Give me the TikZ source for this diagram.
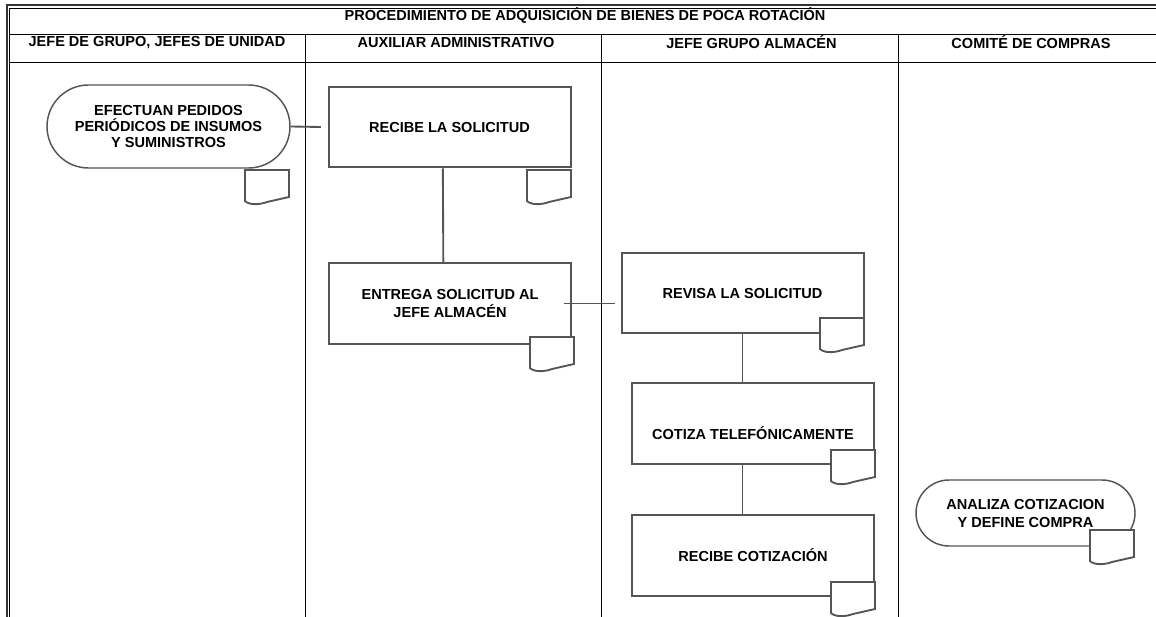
\documentclass[tikz,border=0pt]{standalone}
\usepackage{fontspec}
\setmainfont{Liberation Sans}
\usetikzlibrary{shapes.misc}
\definecolor{borde}{HTML}{555555}

\begin{document}
\begin{tikzpicture}[x=0.75pt,y=-0.75pt,
    texto/.style={font=\bfseries\fontsize{10.9}{13.5}\selectfont, align=center, inner sep=0pt},
    proceso/.style={texto, draw=borde, line width=1.5pt, minimum width=181.5pt, minimum height=60.5pt},
    extremo/.style={texto, rounded rectangle, draw=borde, line width=1.1pt},
    conector/.style={draw=borde, line width=1.4pt},
    carril/.style={line width=0.7pt},
    documento/.pic={\draw[borde, line width=1.4pt, fill=white]
        (0,0) -- (44,0) -- (44,27) -- (22,32) .. controls (14,35) and (4,35) .. (0,31) -- cycle;}]
    \useasboundingbox (0,0) rectangle (1156,617);

    % marco doble y filas de encabezado
    \draw[line width=1.4pt, black!80] (6.8,617) -- (6.8,5.3) -- (1156,5.3);
    \draw[line width=0.8pt] (9.8,617) -- (9.8,8.7) -- (1156,8.7);
    \draw[carril] (9.8,34) -- (1156,34); % fin del titulo
    \draw[carril] (9.8,62) -- (1156,62); % fin de los carriles
    \foreach \x in {305,601,898}
        \draw[carril] (\x,34) -- (\x,617);

    % titulo y carriles
    \node[texto] (titulo) at (585,15.5) {PROCEDIMIENTO DE ADQUISICIÓN DE BIENES DE POCA ROTACIÓN};
    \node[texto] (jefes) at (157,42.5) {JEFE DE GRUPO, JEFES DE UNIDAD};
    \node[texto] (auxiliar) at (456,42.5) {AUXILIAR ADMINISTRATIVO};
    \node[texto] (almacen) at (751.5,42.5) {JEFE GRUPO ALMACÉN};
    \node[texto] (comite) at (1031,42.5) {COMITÉ DE COMPRAS};

    % actividades
    \node[extremo, minimum width=182.25pt, minimum height=62.25pt,
        font=\bfseries\fontsize{10.9}{11.8}\selectfont] (efectuan) at (168.5,126.5)
        {EFECTUAN PEDIDOS\\PERIÓDICOS DE INSUMOS\\Y SUMINISTROS};
    \node[proceso] (recibe) at (449.5,127) {RECIBE LA SOLICITUD};
    \node[proceso] (entrega) at (450,303.5) {ENTREGA SOLICITUD AL\\JEFE ALMACÉN};
    \node[proceso] (revisa) at (742.5,293) {REVISA LA SOLICITUD};
    \node[proceso, text height=24.3pt] (cotiza) at (753,423.5) {COTIZA TELEFÓNICAMENTE};
    \node[proceso] (recibecot) at (753,555.5) {RECIBE COTIZACIÓN};
    \node[extremo, minimum width=164.25pt, minimum height=49.5pt] (analiza) at (1025.5,513)
        {ANALIZA COTIZACION\\Y DEFINE COMPRA};

    % conectores
    \coordinate (llegada) at ([xshift=-4pt]revisa.west);
    \draw[conector] (efectuan.east) -- ([xshift=-5pt]recibe.west);
    \draw[conector] ([xshift=-5pt]recibe.south) -- ([xshift=-5pt]entrega.north);
    \draw[conector] ([xshift=-6pt]entrega.east) -- (llegada |- entrega.east);
    \draw[conector] (revisa.south) -- (revisa.south |- cotiza.north);
    \draw[conector] (revisa.south |- cotiza.south) -- (revisa.south |- recibecot.north);

    % documentos
    \foreach \px/\py in {245/170, 527/170, 530/337, 820/318, 831/450, 831/582, 1090/530}
        \pic at (\px,\py) {documento};
\end{tikzpicture}
\end{document}
